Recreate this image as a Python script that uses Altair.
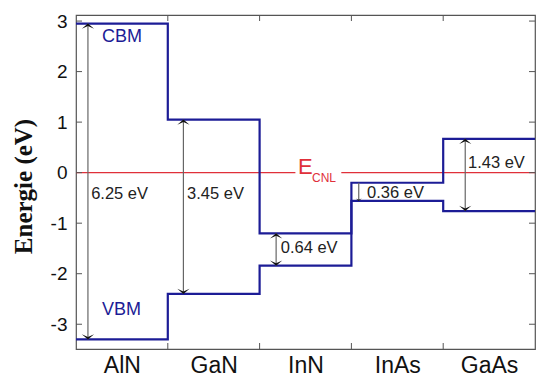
import json
import altair as alt
import pandas as pd

# ---- data ----
materials = ["AlN", "GaN", "InN", "InAs", "GaAs"]
cbm = [2.95, 1.05, -1.20, -0.20, 0.67]
vbm = [-3.30, -2.40, -1.84, -0.56, -0.76]
gap_labels = ["6.25 eV", "3.45 eV", "0.64 eV", "0.36 eV", "1.43 eV"]
y_ticks = [-3, -2, -1, 0, 1, 2, 3]

# annotation placement (data units)
arrow_x = [0.13, 1.17, 2.18, 3.08, 4.24]
label_x = [0.165, 1.21, 2.23, 3.17, 4.27]
label_y = [-0.42, -0.42, -1.49, -0.40, 0.20]
ecnl_segments = [(0.0, 2.39), (2.89, 5.0)]

W, H = 459, 334
NAVY = "#1c1c96"
RED = "#e0303a"
FRAME = "#555555"
SANS = "Liberation Sans"

n = len(materials)
xs = alt.Scale(domain=[0, n], nice=False, zero=False)
ys = alt.Scale(domain=[-3.49, 3.12], nice=False, zero=False)

# step lines
rows = []
for band, vals in (("CBM", cbm), ("VBM", vbm)):
    for i in range(n + 1):
        rows.append({"band": band, "x": i, "y": vals[min(i, n - 1)]})
steps = pd.DataFrame(rows)

arrows = pd.DataFrame({"x": arrow_x, "cbm": cbm, "vbm": vbm,
                       "gap": [c - v for c, v in zip(cbm, vbm)]})
labels = pd.DataFrame({"x": label_x, "y": label_y, "t": gap_labels})
ecnl = pd.DataFrame([{"x": a, "x2": b, "y": 0} for a, b in ecnl_segments])
yt = pd.DataFrame({"y": y_ticks})
xt = pd.DataFrame({"x": list(range(1, n))})

label_expr = json.dumps(materials) + "[floor(datum.value)]"

base_x = alt.X("x:Q", scale=xs, axis=alt.Axis(
    values=[i + 0.5 for i in range(n)], labelExpr=label_expr, ticks=False,
    domain=False, grid=False, title=None, labelFont=SANS, labelFontSize=23,
    labelColor="#111", labelPadding=5))
base_y = alt.Y("y:Q", scale=ys, axis=alt.Axis(
    values=y_ticks, labelExpr="datum.value + ''", ticks=False, domain=False,
    grid=False, title="Energie (eV)", titleFont="Liberation Serif",
    titleFontWeight="bold", titleFontSize=25, titleColor="#111",
    titleAngle=-90, titleX=-53, titleY=171, titleAlign="center",
    titleBaseline="middle", labelFont=SANS, labelFontSize=19,
    labelColor="#111", labelPadding=9))

red = alt.Chart(ecnl).mark_rule(color=RED, strokeWidth=1.3).encode(
    x=base_x, x2="x2:Q", y=base_y)

lines = alt.Chart(steps).mark_line(interpolate="step-after", color=NAVY,
                                   strokeWidth=2.2).encode(
    x=alt.X("x:Q", scale=xs), y=alt.Y("y:Q", scale=ys), detail="band:N")

shafts = alt.Chart(arrows).mark_rule(color="#666666", strokeWidth=1.2).encode(
    x=alt.X("x:Q", scale=xs), y=alt.Y("cbm:Q", scale=ys), y2="vbm:Q")

UP = "M-1,0.85L0,0L1,0.85L0,0.4Z"
DOWN = "M-1,-0.85L0,0L1,-0.85L0,-0.4Z"
up_head = alt.Chart(arrows).transform_filter("datum.gap > 0.5").mark_point(
    shape=UP, filled=True, color="#111", size=150, opacity=1).encode(
    x=alt.X("x:Q", scale=xs), y=alt.Y("cbm:Q", scale=ys))
down_head = alt.Chart(arrows).transform_filter("datum.gap > 0.5").mark_point(
    shape=DOWN, filled=True, color="#111", size=150, opacity=1).encode(
    x=alt.X("x:Q", scale=xs), y=alt.Y("vbm:Q", scale=ys))
small_head = alt.Chart(arrows).transform_filter("datum.gap <= 0.5").mark_point(
    shape=DOWN, filled=True, color="#111", size=35, opacity=1).encode(
    x=alt.X("x:Q", scale=xs), y=alt.Y("vbm:Q", scale=ys))

gap_text = alt.Chart(labels).mark_text(align="left", baseline="middle",
                                       font=SANS, fontSize=16.5, color="#222").encode(
    x=alt.X("x:Q", scale=xs), y=alt.Y("y:Q", scale=ys), text="t:N")

band_lab = pd.DataFrame({"x": [0.283, 0.283], "y": [2.69, -2.72], "t": ["CBM", "VBM"]})
band_text = alt.Chart(band_lab).mark_text(align="left", baseline="middle",
                                          font=SANS, fontSize=18, color=NAVY).encode(
    x=alt.X("x:Q", scale=xs), y=alt.Y("y:Q", scale=ys), text="t:N")

e_df = pd.DataFrame({"x": [2.418], "y": [0.0], "t": ["E"]})
e_text = alt.Chart(e_df).mark_text(align="left", baseline="alphabetic", font=SANS,
                                   fontSize=22, color=RED, dy=1).encode(
    x=alt.X("x:Q", scale=xs), y=alt.Y("y:Q", scale=ys), text="t:N")
cnl_df = pd.DataFrame({"x": [2.571], "y": [0.0], "t": ["CNL"]})
cnl_text = alt.Chart(cnl_df).mark_text(align="left", baseline="alphabetic", font=SANS,
                                       fontSize=12, color=RED, dy=9).encode(
    x=alt.X("x:Q", scale=xs), y=alt.Y("y:Q", scale=ys), text="t:N")

TL = 6
yl = alt.Chart(yt).mark_rule(color=FRAME, strokeWidth=1).encode(
    y=alt.Y("y:Q", scale=ys), x=alt.value(0), x2=alt.value(TL))
yr = alt.Chart(yt).mark_rule(color=FRAME, strokeWidth=1).encode(
    y=alt.Y("y:Q", scale=ys), x=alt.value(W - TL), x2=alt.value(W))
xb = alt.Chart(xt).mark_rule(color=FRAME, strokeWidth=1).encode(
    x=alt.X("x:Q", scale=xs), y=alt.value(H - TL), y2=alt.value(H))
xtp = alt.Chart(xt).mark_rule(color=FRAME, strokeWidth=1).encode(
    x=alt.X("x:Q", scale=xs), y=alt.value(0), y2=alt.value(TL))

chart = alt.layer(
    red, lines, shafts, up_head, down_head, small_head, gap_text, band_text,
    e_text, cnl_text, yl, yr, xb, xtp
).properties(
    width=W, height=H, autosize="none",
    padding={"left": 76, "top": 15, "right": 2, "bottom": 34},
    background="white"
).configure_view(stroke=FRAME, strokeWidth=1.2)

chart.save("out.html", embed_options={"renderer": "svg", "actions": False})
